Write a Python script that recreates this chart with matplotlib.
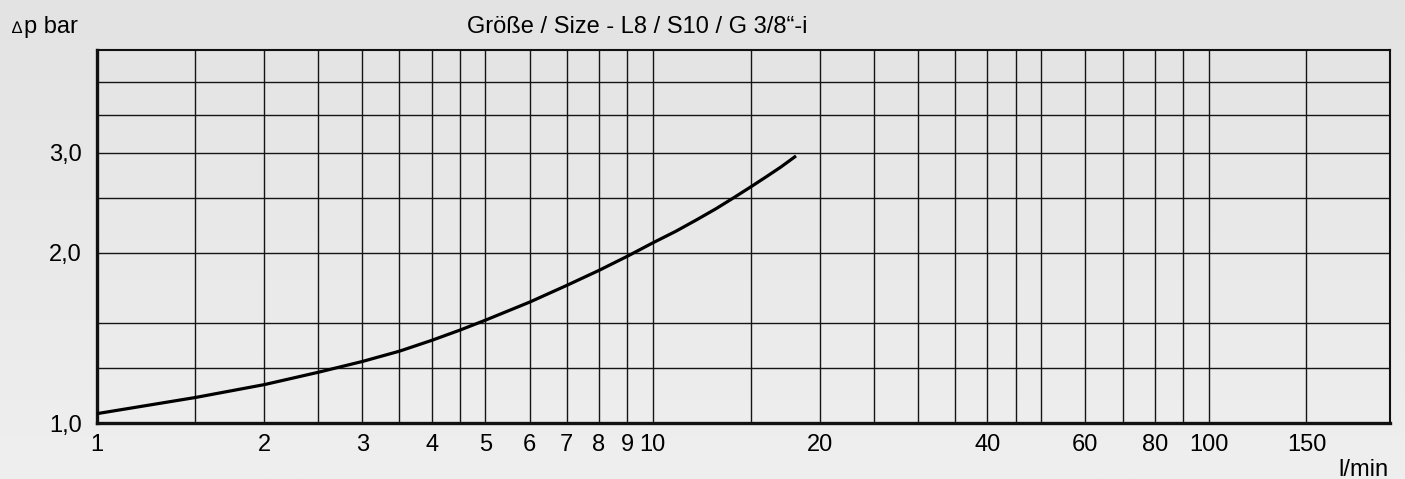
import numpy as np
import matplotlib.pyplot as plt
from matplotlib.colors import LinearSegmentedColormap
from matplotlib.ticker import NullFormatter

plt.rcParams['font.family'] = ['Liberation Sans', 'DejaVu Sans']

# Kennlinie Druckverlust ueber Durchfluss
flow = [1, 1.5, 2, 2.5, 3, 3.5, 4, 4.5, 5, 6, 7, 8, 9, 10,
        11, 12, 13, 14, 15, 16, 17, 18.1]
dp = [1.04, 1.11, 1.17, 1.23, 1.285, 1.34, 1.40, 1.46, 1.52, 1.635, 1.75, 1.86, 1.97, 2.08,
      2.18, 2.285, 2.39, 2.50, 2.61, 2.72, 2.83, 2.96]

x_labeled = [1, 2, 3, 4, 5, 6, 7, 8, 9, 10, 20, 40, 60, 80, 100, 150]
x_grid_extra = [1.5, 2.5, 3.5, 4.5, 15, 25, 30, 35, 45, 50, 70, 90]
y_labeled = [1, 2, 3]
y_labels = ['1,0', '2,0', '3,0']
y_grid_extra = [1.25, 1.5, 2.5, 3.5, 4]

fig = plt.figure(figsize=(14.05, 4.79), dpi=100)

# leichter Grauverlauf im Hintergrund
bg = fig.add_axes([0, 0, 1, 1], zorder=-1)
grad = np.linspace(0, 1, 256).reshape(-1, 1)
bg.imshow(grad, aspect='auto', extent=[0, 1, 0, 1],
          cmap=LinearSegmentedColormap.from_list('bg', ['#e3e3e3', '#efefef']))
bg.axis('off')

ax = fig.add_axes([97 / 1405, 1 - 423.3 / 479, (1390 - 97) / 1405, (423.3 - 50) / 479])
ax.set_facecolor('none')
ax.set_xscale('log')
ax.set_yscale('log')
ax.set_xlim(1, 212)
ax.set_ylim(1, 4.55)

ax.plot(flow, dp, color='black', linewidth=2.3, solid_capstyle='butt',
        solid_joinstyle='round', zorder=3)

ax.set_xticks(x_labeled, [str(v) for v in x_labeled])
ax.set_xticks(x_grid_extra, minor=True)
ax.xaxis.set_minor_formatter(NullFormatter())
ax.set_yticks(y_labeled, y_labels)
ax.set_yticks(y_grid_extra, minor=True)
ax.yaxis.set_minor_formatter(NullFormatter())

ax.tick_params(which='both', length=0, labelsize=17)
ax.tick_params(axis='x', pad=8)
ax.tick_params(axis='y', pad=11)
ax.grid(True, which='both', color='#151515', linewidth=1.0)

for side in ['left', 'bottom']:
    ax.spines[side].set_linewidth(2.4)
for side in ['top', 'right']:
    ax.spines[side].set_linewidth(1.5)
for s in ax.spines.values():
    s.set_color('#111111')

# Achsbeschriftungen und Titel
fig.text(12 / 1405, 1 - 33 / 479, '∆', fontsize=12, va='baseline', ha='left')
fig.text(24 / 1405, 1 - 33 / 479, 'p bar', fontsize=17, va='baseline', ha='left')
fig.text(467 / 1405, 1 - 33 / 479, 'Größe / Size - L8 / S10 / G 3/8“-i',
         fontsize=17, va='baseline', ha='left')
fig.text(1389 / 1405, 1 - 476 / 479, 'l/min', fontsize=17, va='baseline', ha='right')

fig.savefig('out.png', dpi=100)
